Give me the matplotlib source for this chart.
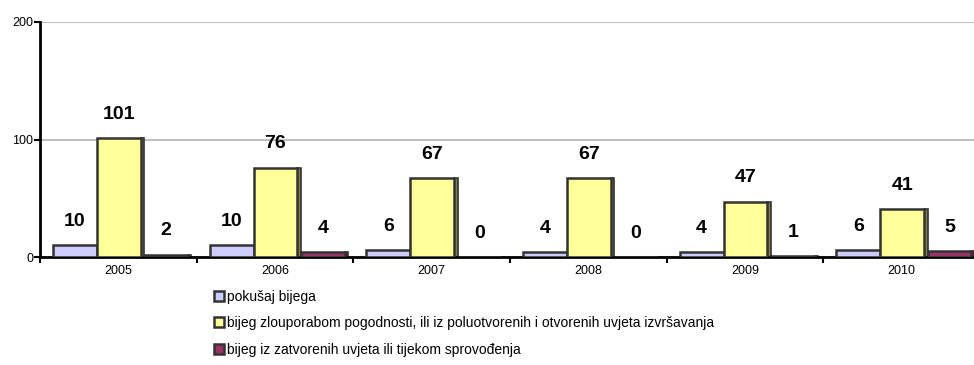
import matplotlib.pyplot as plt
import numpy as np

# Bjegstva po godinama
years = ["2005", "2006", "2007", "2008", "2009", "2010"]
pokusaj = [10, 10, 6, 4, 4, 6]
pogodnosti = [101, 76, 67, 67, 47, 41]
zatvoreni = [2, 4, 0, 0, 1, 5]

labels = [
    "pokušaj bijega",
    "bijeg zlouporabom pogodnosti, ili iz poluotvorenih i otvorenih uvjeta izvršavanja",
    "bijeg iz zatvorenih uvjeta ili tijekom sprovođenja",
]
colors = ["#CCCCFF", "#FFFF99", "#993366"]
sides = ["#8080A0", "#808040", "#5A1E3C"]

plt.rcParams["font.family"] = ["Liberation Sans", "DejaVu Sans"]

fig = plt.figure(figsize=(9.74, 3.65), dpi=100)
ax = fig.add_axes([40 / 974, 108 / 365, 940 / 974, 235 / 365])

x = np.arange(len(years))
w = 0.28
d = 0.022
offsets = [-0.277, 0.003, 0.305]
series = [pokusaj, pogodnosti, zatvoreni]

for vals, off, col, side, lab in zip(series, offsets, colors, sides, labels):
    # bocna strana stupca (dubina)
    ax.bar(x + off + w / 2 + d / 2, vals, width=d, color=side,
           edgecolor="#333333", linewidth=1.2, zorder=2)
    bars = ax.bar(x + off, vals, width=w, color=col, edgecolor="#333333",
                  linewidth=1.8, zorder=3, label=lab)
    for b, v in zip(bars, vals):
        ax.annotate(str(v), (b.get_x() + b.get_width() / 2, v),
                    xytext=(0, 11), textcoords="offset points",
                    ha="center", va="bottom", fontsize=14, fontweight="bold")

ax.set_ylim(0, 200)
ax.set_xlim(-0.5, len(years) - 0.5)
ax.set_yticks([0, 100, 200])
ax.yaxis.grid(True, color="#C0C0C0", linewidth=1.5)
ax.set_axisbelow(True)

ax.set_xticks(x)
ax.set_xticklabels(years, fontsize=9)
ax.set_xticks(np.arange(-0.5, len(years)), minor=True)
ax.tick_params(axis="x", which="major", length=0, pad=6)
ax.tick_params(axis="x", which="minor", length=4, width=1.5, direction="out")
ax.tick_params(axis="y", length=4, width=1.5, labelsize=9, pad=1)

for s in ["top", "right"]:
    ax.spines[s].set_visible(False)
ax.spines["left"].set_linewidth(2)
ax.spines["bottom"].set_linewidth(2)

fig.legend(loc="upper left", bbox_to_anchor=(208 / 974, 1 - 284 / 365),
           frameon=False, fontsize=10, handlelength=0.75, handleheight=0.75,
           handletextpad=0.25, labelspacing=0.9, borderaxespad=0)

plt.savefig("out.png", dpi=100)
